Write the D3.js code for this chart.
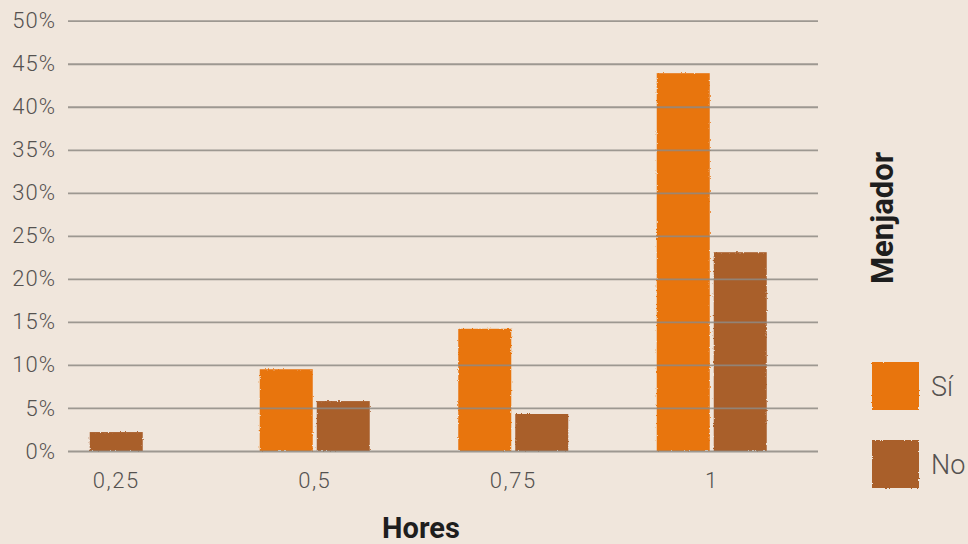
<!DOCTYPE html>
<html>
<head>
<meta charset="utf-8">
<script src="https://cdn.jsdelivr.net/npm/d3@7"></script>
<style>
  html, body { margin: 0; padding: 0; background: #f0e6dc; }
  svg { display: block; }
</style>
</head>
<body>
<svg id="chart" width="968" height="544"></svg>
<script>
// Hours categories and share of pupils, split by school canteen use
const categories = ["0,25", "0,5", "0,75", "1"];
const seriesNames = ["Sí", "No"];
const valuesSi = [0, 9.5, 14.2, 43.9];
const valuesNo = [2.2, 5.8, 4.3, 23.1];
const yTicks = [0, 5, 10, 15, 20, 25, 30, 35, 40, 45, 50];
const colors = { "Sí": "#e8740c", "No": "#a95f2c" };

const svg = d3.select("#chart");
const W = 968, H = 544;
const FONT = "Roboto, 'DejaVu Sans', sans-serif";
svg.append("rect").attr("width", W).attr("height", H).attr("fill", "#f0e6dc");

// Rough painted edge for the bars
const defs = svg.append("defs");
const f = defs.append("filter").attr("id", "rough")
  .attr("x", "-5%").attr("y", "-5%").attr("width", "110%").attr("height", "110%");
f.append("feTurbulence").attr("type", "fractalNoise").attr("baseFrequency", 0.6)
  .attr("numOctaves", 2).attr("seed", 3).attr("result", "noise");
f.append("feDisplacementMap").attr("in", "SourceGraphic").attr("in2", "noise")
  .attr("scale", 2.5).attr("xChannelSelector", "R").attr("yChannelSelector", "G");

const plot = { left: 68, right: 818, top: 20.7, bottom: 451 };

const y = d3.scaleLinear().domain([0, 50]).range([plot.bottom, plot.top]);
const x = d3.scaleBand().domain(categories).range([17, 811]).paddingInner(0).paddingOuter(0);
const barW = 53, gap = 4;

// Bars: groups with a single non-zero value keep that bar centred
const rows = categories.map((c, i) => {
  const vals = [{ s: "Sí", v: valuesSi[i] }, { s: "No", v: valuesNo[i] }].filter(d => d.v > 0);
  return { c, vals };
});

const barsG = svg.append("g").attr("filter", "url(#rough)");
rows.forEach(r => {
  const n = r.vals.length;
  const total = n * barW + (n - 1) * gap;
  const cx = x(r.c) + x.bandwidth() / 2;
  r.vals.forEach((d, j) => {
    const x0 = cx - total / 2 + j * (barW + gap);
    barsG.append("rect")
      .attr("x", x0).attr("width", barW)
      .attr("y", y(d.v)).attr("height", y(0) - y(d.v))
      .attr("fill", colors[d.s]);
  });
});

// Grid lines drawn above the bars
const yAxis = d3.axisLeft(y).tickValues(yTicks).tickFormat(d => d + "%")
  .tickSize(-(plot.right - plot.left)).tickPadding(12);
const gy = svg.append("g").attr("transform", `translate(${plot.left},0)`).call(yAxis);
gy.select(".domain").remove();
gy.selectAll(".tick line").attr("stroke", "#8e8a84").attr("stroke-width", 1.8).attr("stroke-opacity", 0.85);
gy.selectAll(".tick text")
  .attr("fill", "#555250").attr("font-family", FONT)
  .attr("font-size", 22).attr("font-weight", 300)
  .attr("letter-spacing", 1).attr("x", -12);

// Category labels
const xAxis = d3.axisBottom(x).tickSize(0).tickPadding(0);
const gx = svg.append("g").attr("transform", `translate(0,${plot.bottom})`).call(xAxis);
gx.select(".domain").remove();
gx.selectAll(".tick text")
  .attr("y", 37).attr("dy", null)
  .attr("fill", "#555250").attr("font-family", FONT)
  .attr("font-size", 22).attr("font-weight", 300)
  .attr("letter-spacing", 1.5);

// Axis title
svg.append("text").attr("x", 421).attr("y", 538).attr("text-anchor", "middle")
  .attr("font-family", FONT).attr("font-weight", 700)
  .attr("font-size", 29).attr("fill", "#1e1e1e").text("Hores");

// Legend
svg.append("text").attr("transform", "translate(893,218) rotate(-90)").attr("text-anchor", "middle")
  .attr("font-family", FONT).attr("font-weight", 700)
  .attr("font-size", 31).attr("fill", "#1e1e1e").text("Menjador");

const leg = svg.append("g");
seriesNames.forEach((s, i) => {
  const y0 = 362 + i * 78;
  leg.append("rect").attr("x", 872).attr("y", y0).attr("width", 47).attr("height", 48)
    .attr("fill", colors[s]).attr("filter", "url(#rough)");
  leg.append("text").attr("x", 931).attr("y", y0 + 34)
    .attr("font-family", FONT).attr("font-weight", 300)
    .attr("font-size", 27).attr("fill", "#555250").text(s);
});
</script>
</body>
</html>
